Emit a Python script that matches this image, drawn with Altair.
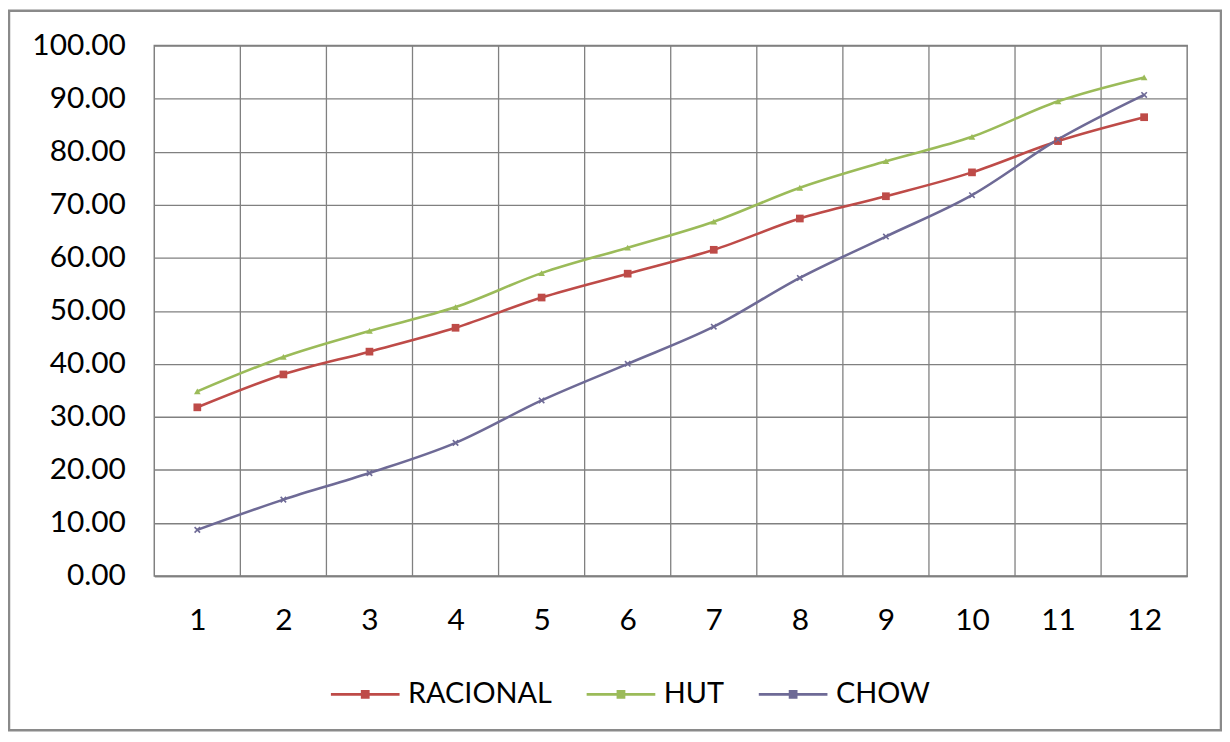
import altair as alt
import pandas as pd

categories = [1, 2, 3, 4, 5, 6, 7, 8, 9, 10, 11, 12]
racional = [31.8, 38.0, 42.3, 46.8, 52.5, 57.0, 61.5, 67.4, 71.6, 76.1, 82.0, 86.5]
hut = [34.8, 41.3, 46.2, 50.7, 57.1, 61.9, 66.8, 73.2, 78.2, 82.8, 89.5, 94.0]
chow = [8.7, 14.4, 19.4, 25.1, 33.1, 40.0, 47.0, 56.2, 64.0, 71.8, 82.3, 90.7]
series_names = ["RACIONAL", "HUT", "CHOW"]
series_colors = ["#BE4B48", "#9BBB59", "#6E6A96"]
y_ticks = [0, 10, 20, 30, 40, 50, 60, 70, 80, 90, 100]

rows = []
for name, vals in zip(series_names, [racional, hut, chow]):
    for c, v in zip(categories, vals):
        rows.append({"x": c, "value": v, "series": name})
df = pd.DataFrame(rows)
bounds = pd.DataFrame({"x": [c + 0.5 for c in categories[:-1]]})

FONT = "Lato"
W, H = 1038, 533

xscale = alt.Scale(domain=[categories[0] - 0.5, categories[-1] + 0.5], nice=False, zero=False)
yscale = alt.Scale(domain=[0, 100], nice=False)
cscale = alt.Scale(domain=series_names, range=series_colors)

xaxis = alt.Axis(values=categories, format="d", title=None, grid=False, ticks=False,
                 domain=True, domainColor="#808080", domainWidth=1.5,
                 labelFont=FONT, labelFontSize=30, labelColor="#000000",
                 labelPadding=30, labelOverlap=False, labelFlush=False)
yaxis = alt.Axis(values=y_ticks, format=".2f", title=None, grid=True, ticks=False,
                 domain=False, gridColor="#808080", gridWidth=1.3,
                 labelFont=FONT, labelFontSize=30, labelColor="#000000",
                 labelPadding=29, labelOverlap=False)

X = alt.X("x:Q", scale=xscale, axis=xaxis)
Y = alt.Y("value:Q", scale=yscale, axis=yaxis)

frame = alt.Chart(alt.Data(values=[{}])).mark_rect(
    fillOpacity=0, stroke="#8a8a8a", strokeWidth=2.5
).encode(x=alt.value(-146), x2=alt.value(1072), y=alt.value(-35), y2=alt.value(688))

vgrid = alt.Chart(bounds).mark_rule(color="#808080", strokeWidth=1.3).encode(x=X)

lines = alt.Chart(df).mark_line(strokeWidth=2.6, interpolate="monotone").encode(
    x=X, y=Y,
    color=alt.Color("series:N", scale=cscale, sort=series_names,
                    legend=alt.Legend(
                        title=None, orient="none", direction="horizontal",
                        legendX=176, legendY=616, padding=0,
                        symbolType="M-1,0H1M-0.09,-0.09H0.09V0.09H-0.09Z",
                        symbolSize=4761, symbolStrokeWidth=2.6,
                        labelFont=FONT, labelFontSize=29, labelColor="#000000",
                        labelOffset=7, columnPadding=29)),
)

pts_sq = alt.Chart(df).transform_filter(alt.datum.series == "RACIONAL").mark_point(
    shape="square", filled=True, size=60, opacity=1
).encode(x=X, y=Y, color=alt.Color("series:N", scale=cscale, legend=None))

pts_tri = alt.Chart(df).transform_filter(alt.datum.series == "HUT").mark_point(
    shape="triangle-up", filled=True, size=45, opacity=1
).encode(x=X, y=Y, color=alt.Color("series:N", scale=cscale, legend=None))

pts_x = alt.Chart(df).transform_filter(alt.datum.series == "CHOW").mark_point(
    shape="M-1,-1L1,1M-1,1L1,-1", filled=False, size=30, strokeWidth=1.6, opacity=1
).encode(x=X, y=Y, color=alt.Color("series:N", scale=cscale, legend=None))

chart = alt.layer(frame, vgrid, lines, pts_sq, pts_tri, pts_x).properties(
    width=W, height=H,
    autosize=alt.AutoSizeParams(type="none"),
    padding={"left": 147, "top": 36, "right": 35, "bottom": 157},
    background="#ffffff",
).configure_view(stroke="#808080", strokeWidth=1.5)

chart.save("out.html", embed_options={"renderer": "svg", "actions": False})
